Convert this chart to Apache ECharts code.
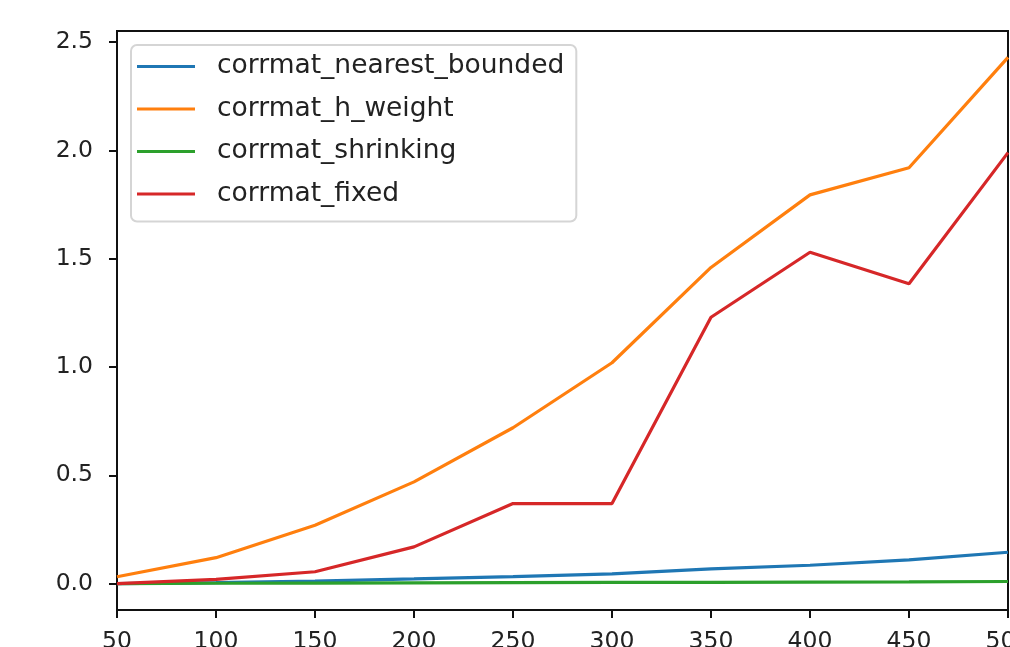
<!DOCTYPE html>
<html>
<head>
<meta charset="utf-8">
<script src="https://cdn.jsdelivr.net/npm/echarts@6/dist/echarts.min.js"></script>
<style>
html,body{margin:0;padding:0;background:#fff;}
#chart{width:1010px;height:647px;}
</style>
</head>
<body>
<div id="chart"></div>
<script>
const xValues = [50, 100, 150, 200, 250, 300, 350, 400, 450, 500];
const nearestBounded = [0.0, 0.005, 0.012, 0.022, 0.033, 0.045, 0.068, 0.085, 0.11, 0.145];
const hWeight = [0.032, 0.12, 0.27, 0.47, 0.72, 1.02, 1.46, 1.795, 1.92, 2.43];
const shrinking = [0.0, 0.002, 0.003, 0.004, 0.005, 0.006, 0.006, 0.007, 0.008, 0.01];
const fixedVals = [0.0, 0.02, 0.055, 0.17, 0.37, 0.37, 1.23, 1.53, 1.385, 1.99];
const yTicks = [0.0, 0.5, 1.0, 1.5, 2.0, 2.5];
const seriesNames = ['corrmat_nearest_bounded', 'corrmat_h_weight', 'corrmat_shrinking', 'corrmat_fixed'];
const seriesData = [nearestBounded, hWeight, shrinking, fixedVals];
const colors = ['#1f77b4', '#ff7f0e', '#2ca02c', '#d62728'];

const font = 'DejaVu Sans';
const chart = echarts.init(document.getElementById('chart'), null, {renderer: 'canvas'});

const allVals = seriesData.flat();
const dMin = Math.min(...allVals), dMax = Math.max(...allVals);
const pad = (dMax - dMin) * 0.05;

chart.setOption({
  animation: false,
  backgroundColor: '#fff',
  color: colors,
  grid: {
    left: 117, right: 2, top: 31, bottom: 37,
    outerBoundsMode: 'none', containLabel: false,
    show: true, borderColor: '#111', borderWidth: 2, backgroundColor: 'transparent'
  },
  legend: {
    orient: 'vertical',
    left: 131, top: 45,
    padding: [8, 12, 14, 6],
    itemWidth: 58, itemHeight: 3,
    itemGap: 15.5,
    icon: 'rect',
    backgroundColor: 'rgba(255,255,255,0.85)',
    borderColor: '#d5d5d5', borderWidth: 2, borderRadius: 6,
    textStyle: {fontFamily: font, fontSize: 26.5, color: '#222', padding: [0, 0, 0, 17], lineHeight: 26},
    data: seriesNames
  },
  xAxis: {
    type: 'value', min: 50, max: 500, interval: 50,
    axisLine: {show: true, onZero: false, lineStyle: {color: '#111', width: 2}},
    axisTick: {show: true, length: 8, lineStyle: {color: '#111', width: 2}},
    axisLabel: {fontFamily: font, fontSize: 23.5, color: '#222', margin: 20},
    splitLine: {show: false}
  },
  yAxis: {
    type: 'value', min: dMin - pad, max: dMax + pad,
    axisLine: {show: true, onZero: false, lineStyle: {color: '#111', width: 2}},
    axisTick: {show: true, length: 8, lineStyle: {color: '#111', width: 2}, customValues: yTicks},
    axisLabel: {fontFamily: font, fontSize: 23.5, color: '#222', margin: 24,
      customValues: yTicks, formatter: v => v.toFixed(1)},
    splitLine: {show: false}
  },
  series: seriesNames.map((name, i) => ({
    name: name,
    type: 'line',
    data: xValues.map((x, j) => [x, seriesData[i][j]]),
    showSymbol: false,
    symbol: 'none',
    lineStyle: {width: 3.2, color: colors[i]},
    itemStyle: {color: colors[i]},
    clip: true
  }))
});
</script>
</body>
</html>
